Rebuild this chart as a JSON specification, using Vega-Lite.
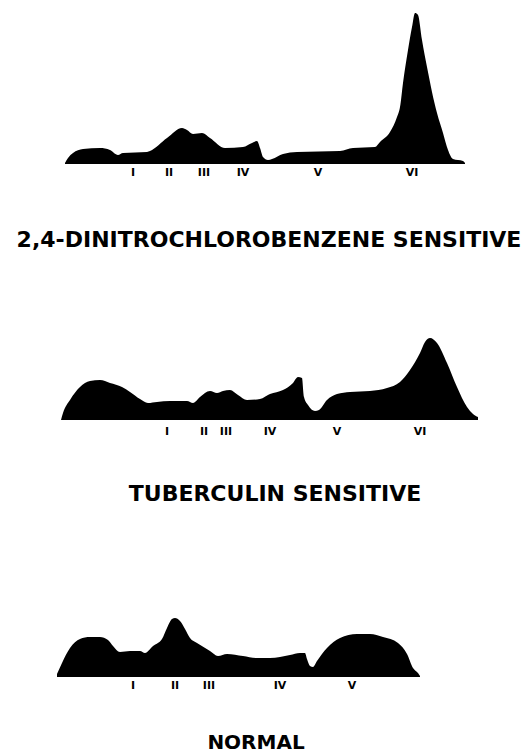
{
  "$schema": "https://vega.github.io/schema/vega-lite/v6.json",
  "padding": 0,
  "spacing": 60,
  "background": "white",
  "config": {
    "view": {"stroke": null},
    "title": {"font": "DejaVu Sans", "fontSize": 22, "fontWeight": "bold", "color": "black"}
  },
  "datasets": {
    "traces": [
      {"panel": "dncb", "distance": 65, "density": 1},
      {"panel": "dncb", "distance": 68, "density": 6},
      {"panel": "dncb", "distance": 73, "density": 11},
      {"panel": "dncb", "distance": 83, "density": 15},
      {"panel": "dncb", "distance": 100, "density": 16},
      {"panel": "dncb", "distance": 110, "density": 14},
      {"panel": "dncb", "distance": 118, "density": 9},
      {"panel": "dncb", "distance": 123, "density": 11},
      {"panel": "dncb", "distance": 147, "density": 12},
      {"panel": "dncb", "distance": 150, "density": 13},
      {"panel": "dncb", "distance": 167, "density": 26},
      {"panel": "dncb", "distance": 182, "density": 36},
      {"panel": "dncb", "distance": 187, "density": 34},
      {"panel": "dncb", "distance": 193, "density": 30},
      {"panel": "dncb", "distance": 202, "density": 31},
      {"panel": "dncb", "distance": 210, "density": 26},
      {"panel": "dncb", "distance": 225, "density": 16},
      {"panel": "dncb", "distance": 243, "density": 17},
      {"panel": "dncb", "distance": 252, "density": 21},
      {"panel": "dncb", "distance": 257, "density": 23},
      {"panel": "dncb", "distance": 260, "density": 16},
      {"panel": "dncb", "distance": 263, "density": 7},
      {"panel": "dncb", "distance": 268, "density": 4},
      {"panel": "dncb", "distance": 272, "density": 5},
      {"panel": "dncb", "distance": 283, "density": 10},
      {"panel": "dncb", "distance": 297, "density": 12},
      {"panel": "dncb", "distance": 340, "density": 13},
      {"panel": "dncb", "distance": 353, "density": 16},
      {"panel": "dncb", "distance": 375, "density": 17},
      {"panel": "dncb", "distance": 380, "density": 22},
      {"panel": "dncb", "distance": 390, "density": 32},
      {"panel": "dncb", "distance": 397, "density": 47},
      {"panel": "dncb", "distance": 400, "density": 57},
      {"panel": "dncb", "distance": 403, "density": 81},
      {"panel": "dncb", "distance": 408, "density": 114},
      {"panel": "dncb", "distance": 412, "density": 137},
      {"panel": "dncb", "distance": 415, "density": 151},
      {"panel": "dncb", "distance": 418, "density": 149},
      {"panel": "dncb", "distance": 422, "density": 124},
      {"panel": "dncb", "distance": 427, "density": 97},
      {"panel": "dncb", "distance": 437, "density": 51},
      {"panel": "dncb", "distance": 443, "density": 31},
      {"panel": "dncb", "distance": 448, "density": 14},
      {"panel": "dncb", "distance": 453, "density": 5},
      {"panel": "dncb", "distance": 463, "density": 3},
      {"panel": "dncb", "distance": 465, "density": 1},

      {"panel": "tuberculin", "distance": 61, "density": 0},
      {"panel": "tuberculin", "distance": 63, "density": 7},
      {"panel": "tuberculin", "distance": 70, "density": 20},
      {"panel": "tuberculin", "distance": 80, "density": 33},
      {"panel": "tuberculin", "distance": 90, "density": 39},
      {"panel": "tuberculin", "distance": 100, "density": 40},
      {"panel": "tuberculin", "distance": 110, "density": 37},
      {"panel": "tuberculin", "distance": 122, "density": 33},
      {"panel": "tuberculin", "distance": 130, "density": 28},
      {"panel": "tuberculin", "distance": 140, "density": 21},
      {"panel": "tuberculin", "distance": 148, "density": 17},
      {"panel": "tuberculin", "distance": 157, "density": 18},
      {"panel": "tuberculin", "distance": 170, "density": 19},
      {"panel": "tuberculin", "distance": 187, "density": 19},
      {"panel": "tuberculin", "distance": 193, "density": 17},
      {"panel": "tuberculin", "distance": 200, "density": 23},
      {"panel": "tuberculin", "distance": 210, "density": 29},
      {"panel": "tuberculin", "distance": 217, "density": 27},
      {"panel": "tuberculin", "distance": 223, "density": 29},
      {"panel": "tuberculin", "distance": 230, "density": 30},
      {"panel": "tuberculin", "distance": 238, "density": 25},
      {"panel": "tuberculin", "distance": 247, "density": 20},
      {"panel": "tuberculin", "distance": 260, "density": 21},
      {"panel": "tuberculin", "distance": 270, "density": 26},
      {"panel": "tuberculin", "distance": 283, "density": 30},
      {"panel": "tuberculin", "distance": 293, "density": 37},
      {"panel": "tuberculin", "distance": 298, "density": 43},
      {"panel": "tuberculin", "distance": 302, "density": 42},
      {"panel": "tuberculin", "distance": 304, "density": 23},
      {"panel": "tuberculin", "distance": 308, "density": 15},
      {"panel": "tuberculin", "distance": 315, "density": 9},
      {"panel": "tuberculin", "distance": 319, "density": 10},
      {"panel": "tuberculin", "distance": 327, "density": 20},
      {"panel": "tuberculin", "distance": 337, "density": 26},
      {"panel": "tuberculin", "distance": 350, "density": 28},
      {"panel": "tuberculin", "distance": 370, "density": 29},
      {"panel": "tuberculin", "distance": 387, "density": 32},
      {"panel": "tuberculin", "distance": 400, "density": 38},
      {"panel": "tuberculin", "distance": 410, "density": 50},
      {"panel": "tuberculin", "distance": 420, "density": 67},
      {"panel": "tuberculin", "distance": 425, "density": 78},
      {"panel": "tuberculin", "distance": 430, "density": 82},
      {"panel": "tuberculin", "distance": 437, "density": 77},
      {"panel": "tuberculin", "distance": 447, "density": 57},
      {"panel": "tuberculin", "distance": 457, "density": 33},
      {"panel": "tuberculin", "distance": 467, "density": 13},
      {"panel": "tuberculin", "distance": 473, "density": 6},
      {"panel": "tuberculin", "distance": 478, "density": 3},

      {"panel": "normal", "distance": 57, "density": 3},
      {"panel": "normal", "distance": 62, "density": 14},
      {"panel": "normal", "distance": 70, "density": 29},
      {"panel": "normal", "distance": 80, "density": 38},
      {"panel": "normal", "distance": 90, "density": 40},
      {"panel": "normal", "distance": 100, "density": 40},
      {"panel": "normal", "distance": 108, "density": 37},
      {"panel": "normal", "distance": 113, "density": 31},
      {"panel": "normal", "distance": 120, "density": 25},
      {"panel": "normal", "distance": 130, "density": 26},
      {"panel": "normal", "distance": 140, "density": 26},
      {"panel": "normal", "distance": 145, "density": 24},
      {"panel": "normal", "distance": 153, "density": 31},
      {"panel": "normal", "distance": 162, "density": 38},
      {"panel": "normal", "distance": 167, "density": 49},
      {"panel": "normal", "distance": 172, "density": 58},
      {"panel": "normal", "distance": 175, "density": 59},
      {"panel": "normal", "distance": 180, "density": 56},
      {"panel": "normal", "distance": 185, "density": 48},
      {"panel": "normal", "distance": 190, "density": 39},
      {"panel": "normal", "distance": 197, "density": 34},
      {"panel": "normal", "distance": 210, "density": 26},
      {"panel": "normal", "distance": 218, "density": 21},
      {"panel": "normal", "distance": 227, "density": 23},
      {"panel": "normal", "distance": 243, "density": 21},
      {"panel": "normal", "distance": 257, "density": 19},
      {"panel": "normal", "distance": 270, "density": 19},
      {"panel": "normal", "distance": 290, "density": 22},
      {"panel": "normal", "distance": 300, "density": 24},
      {"panel": "normal", "distance": 305, "density": 24},
      {"panel": "normal", "distance": 307, "density": 18},
      {"panel": "normal", "distance": 310, "density": 11},
      {"panel": "normal", "distance": 313, "density": 10},
      {"panel": "normal", "distance": 317, "density": 16},
      {"panel": "normal", "distance": 327, "density": 29},
      {"panel": "normal", "distance": 340, "density": 39},
      {"panel": "normal", "distance": 357, "density": 43},
      {"panel": "normal", "distance": 370, "density": 43},
      {"panel": "normal", "distance": 383, "density": 40},
      {"panel": "normal", "distance": 398, "density": 34},
      {"panel": "normal", "distance": 407, "density": 23},
      {"panel": "normal", "distance": 413, "density": 9},
      {"panel": "normal", "distance": 418, "density": 4},
      {"panel": "normal", "distance": 420, "density": 1}
    ],
    "fractions": [
      {"panel": "dncb", "fraction": "I", "distance": 133},
      {"panel": "dncb", "fraction": "II", "distance": 169},
      {"panel": "dncb", "fraction": "III", "distance": 204},
      {"panel": "dncb", "fraction": "IV", "distance": 243},
      {"panel": "dncb", "fraction": "V", "distance": 318},
      {"panel": "dncb", "fraction": "VI", "distance": 412},
      {"panel": "tuberculin", "fraction": "I", "distance": 167},
      {"panel": "tuberculin", "fraction": "II", "distance": 204},
      {"panel": "tuberculin", "fraction": "III", "distance": 226},
      {"panel": "tuberculin", "fraction": "IV", "distance": 270},
      {"panel": "tuberculin", "fraction": "V", "distance": 337},
      {"panel": "tuberculin", "fraction": "VI", "distance": 420},
      {"panel": "normal", "fraction": "I", "distance": 133},
      {"panel": "normal", "fraction": "II", "distance": 175},
      {"panel": "normal", "fraction": "III", "distance": 209},
      {"panel": "normal", "fraction": "IV", "distance": 280},
      {"panel": "normal", "fraction": "V", "distance": 352}
    ]
  },
  "vconcat": [
    {
      "width": 526,
      "height": 178,
      "title": {"text": "2,4-DINITROCHLOROBENZENE SENSITIVE", "orient": "bottom", "offset": 52, "dx": 6},
      "layer": [
        {
          "data": {"name": "traces"},
          "transform": [{"filter": "datum.panel === 'dncb'"}],
          "mark": {"type": "area", "color": "black", "interpolate": "monotone"},
          "encoding": {
            "x": {"field": "distance", "type": "quantitative", "scale": {"domain": [0, 526], "nice": false, "zero": false}, "axis": null},
            "y": {"field": "density", "type": "quantitative", "scale": {"domain": [-14, 164], "nice": false, "zero": false}, "axis": null},
            "y2": {"datum": 0}
          }
        },
        {
          "data": {"name": "fractions"},
          "transform": [{"filter": "datum.panel === 'dncb'"}],
          "mark": {"type": "text", "font": "DejaVu Sans", "fontWeight": "bold", "fontSize": 11, "color": "black"},
          "encoding": {
            "x": {"field": "distance", "type": "quantitative"},
            "y": {"datum": -9},
            "text": {"field": "fraction"}
          }
        }
      ]
    },
    {
      "width": 526,
      "height": 125,
      "title": {"text": "TUBERCULIN SENSITIVE", "orient": "bottom", "offset": 47, "dx": 12},
      "layer": [
        {
          "data": {"name": "traces"},
          "transform": [{"filter": "datum.panel === 'tuberculin'"}],
          "mark": {"type": "area", "color": "black", "interpolate": "monotone"},
          "encoding": {
            "x": {"field": "distance", "type": "quantitative", "scale": {"domain": [0, 526], "nice": false, "zero": false}, "axis": null},
            "y": {"field": "density", "type": "quantitative", "scale": {"domain": [-16, 109], "nice": false, "zero": false}, "axis": null},
            "y2": {"datum": 0}
          }
        },
        {
          "data": {"name": "fractions"},
          "transform": [{"filter": "datum.panel === 'tuberculin'"}],
          "mark": {"type": "text", "font": "DejaVu Sans", "fontWeight": "bold", "fontSize": 11, "color": "black"},
          "encoding": {
            "x": {"field": "distance", "type": "quantitative"},
            "y": {"datum": -12},
            "text": {"field": "fraction"}
          }
        }
      ]
    },
    {
      "width": 526,
      "height": 126,
      "title": {"text": "NORMAL", "orient": "bottom", "offset": 42, "dx": -7, "fontSize": 20},
      "layer": [
        {
          "data": {"name": "traces"},
          "transform": [{"filter": "datum.panel === 'normal'"}],
          "mark": {"type": "area", "color": "black", "interpolate": "monotone"},
          "encoding": {
            "x": {"field": "distance", "type": "quantitative", "scale": {"domain": [0, 526], "nice": false, "zero": false}, "axis": null},
            "y": {"field": "density", "type": "quantitative", "scale": {"domain": [-14, 112], "nice": false, "zero": false}, "axis": null},
            "y2": {"datum": 0}
          }
        },
        {
          "data": {"name": "fractions"},
          "transform": [{"filter": "datum.panel === 'normal'"}],
          "mark": {"type": "text", "font": "DejaVu Sans", "fontWeight": "bold", "fontSize": 11, "color": "black"},
          "encoding": {
            "x": {"field": "distance", "type": "quantitative"},
            "y": {"datum": -9},
            "text": {"field": "fraction"}
          }
        }
      ]
    }
  ]
}
